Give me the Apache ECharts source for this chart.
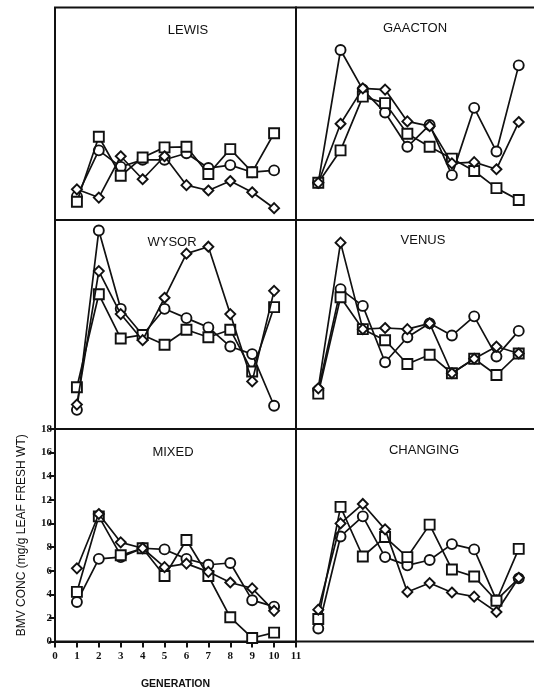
<!DOCTYPE html>
<html>
<head>
<meta charset="utf-8">
<script src="https://cdn.jsdelivr.net/npm/echarts@6/dist/echarts.min.js"></script>
<style>html,body{margin:0;padding:0;background:#fff;}#c{width:534px;height:689px;}</style>
</head>
<body>
<div id="c"></div>
<script>
// Data (BMV concentration, mg/g leaf fresh wt) per generation
const generations = [1, 2, 3, 4, 5, 6, 7, 8, 9, 10];
const yTicks = [0, 2, 4, 6, 8, 10, 12, 14, 16, 18];
const xTicks = [0, 1, 2, 3, 4, 5, 6, 7, 8, 9, 10, 11];
const panelNames = ['LEWIS', 'GAACTON', 'WYSOR', 'VENUS', 'MIXED', 'CHANGING'];

const lewisCircle   = [2.0, 5.9, 4.5, 5.1, 5.1, 5.65, 4.4, 4.65, 4.05, 4.2];
const lewisSquare   = [1.55, 7.05, 3.75, 5.3, 6.15, 6.2, 3.9, 6.0, 4.05, 7.35];
const lewisDiamond  = [2.6, 1.9, 5.4, 3.45, 5.4, 2.95, 2.5, 3.3, 2.35, 1.0];

const gaactonCircle  = [3.15, 14.4, 11.05, 9.1, 6.2, 8.05, 3.8, 9.5, 5.8, 13.1];
const gaactonSquare  = [3.15, 5.9, 10.45, 9.9, 7.3, 6.2, 5.2, 4.15, 2.7, 1.7];
const gaactonDiamond = [3.15, 8.15, 11.15, 11.05, 8.35, 7.95, 4.8, 4.9, 4.3, 8.3];

const wysorCircle  = [1.65, 17.1, 10.35, 8.1, 10.35, 9.55, 8.75, 7.1, 6.45, 2.0];
const wysorSquare  = [3.6, 11.6, 7.8, 8.1, 7.25, 8.55, 7.9, 8.55, 4.95, 10.5];
const wysorDiamond = [2.1, 13.6, 9.9, 7.65, 11.3, 15.1, 15.7, 9.9, 4.1, 11.9];

const venusCircle  = [3.35, 12.05, 10.6, 5.75, 7.9, 9.1, 8.05, 9.7, 6.25, 8.45];
const venusSquare  = [3.05, 11.35, 8.6, 7.65, 5.6, 6.4, 4.8, 6.05, 4.65, 6.5];
const venusDiamond = [3.5, 16.05, 8.6, 8.7, 8.6, 9.1, 4.8, 6.05, 7.1, 6.5];

const mixedCircle  = [3.35, 7.0, 7.15, 7.9, 7.8, 7.0, 6.5, 6.65, 3.5, 2.95];
const mixedSquare  = [4.2, 10.6, 7.3, 7.9, 5.55, 8.6, 5.55, 2.05, 0.3, 0.75];
const mixedDiamond = [6.2, 10.8, 8.4, 7.9, 6.3, 6.6, 5.9, 5.0, 4.5, 2.6];

const changingCircle  = [1.1, 8.9, 10.6, 7.15, 6.45, 6.9, 8.25, 7.8, 3.5, 5.35];
const changingSquare  = [1.9, 11.4, 7.2, 8.85, 7.15, 9.9, 6.1, 5.5, 3.45, 7.85];
const changingDiamond = [2.7, 10.0, 11.65, 9.5, 4.2, 4.95, 4.15, 3.8, 2.5, 5.4];

const panelData = [
  [lewisCircle, lewisSquare, lewisDiamond],
  [gaactonCircle, gaactonSquare, gaactonDiamond],
  [wysorCircle, wysorSquare, wysorDiamond],
  [venusCircle, venusSquare, venusDiamond],
  [mixedCircle, mixedSquare, mixedDiamond],
  [changingCircle, changingSquare, changingDiamond]
];

// Layout
const colLeft = [55, 296];
const colWidth = [241, 245];
const rowTop = [7.5, 220, 429];
const rowHeight = [212.5, 209, 212.5];
const titlePos = [[183, 25], [410, 23.5], [167, 237], [418, 235], [168, 447], [419, 445]];

const ink = '#111';
const grids = [], xAxes = [], yAxes = [], series = [], titles = [];
const symbols = ['circle', 'rect', 'diamond'];
const symSizes = [10, 10, 10];

for (let p = 0; p < 6; p++) {
  const r = Math.floor(p / 2), c = p % 2;
  const isAxisPanel = (p === 4);
  grids.push({
    left: colLeft[c], top: rowTop[r], width: colWidth[c], height: rowHeight[r],
    containLabel: false, outerBoundsMode: 'none',
    show: true, borderColor: ink, borderWidth: 2, backgroundColor: 'transparent'
  });
  xAxes.push({
    type: 'value', gridIndex: p, min: 0, max: 11, interval: 1,
    show: true,
    axisLine: { show: isAxisPanel, lineStyle: { color: ink, width: 2 } },
    axisTick: { show: isAxisPanel, length: 6, lineStyle: { color: ink, width: 2 } },
    axisLabel: {
      show: isAxisPanel, margin: 9, color: ink,
      fontFamily: 'Liberation Serif', fontWeight: 'bold', fontSize: 11,
      formatter: v => xTicks.includes(v) ? String(v) : ''
    },
    splitLine: { show: false },
    name: isAxisPanel ? 'GENERATION' : '',
    nameLocation: 'middle', nameGap: 37,
    nameTextStyle: { color: ink, fontFamily: 'Liberation Sans', fontWeight: 'bold', fontSize: 10.5 }
  });
  yAxes.push({
    type: 'value', gridIndex: p, min: 0, max: 18, interval: 2,
    show: true,
    axisLine: { show: isAxisPanel, lineStyle: { color: ink, width: 2 } },
    axisTick: { show: isAxisPanel, length: 6, lineStyle: { color: ink, width: 2 } },
    axisLabel: {
      show: isAxisPanel, margin: 3, color: ink,
      fontFamily: 'Liberation Serif', fontWeight: 'bold', fontSize: 11,
      formatter: v => yTicks.includes(v) ? String(v) : ''
    },
    splitLine: { show: false },
    name: isAxisPanel ? 'BMV CONC (mg/g LEAF FRESH WT)' : '',
    nameLocation: 'middle', nameGap: 27, nameRotate: 90,
    nameTextStyle: { color: ink, fontFamily: 'Liberation Sans', fontSize: 12 }
  });
  titles.push({
    text: panelNames[p], left: titlePos[p][0], top: titlePos[p][1],
    textAlign: 'center', textVerticalAlign: 'middle',
    textStyle: { color: ink, fontFamily: 'Liberation Sans', fontWeight: 'normal', fontSize: 13 }
  });
  for (let s = 0; s < 3; s++) {
    series.push({
      type: 'line', xAxisIndex: p, yAxisIndex: p,
      data: generations.map((g, i) => [g, panelData[p][s][i]]),
      symbol: symbols[s], symbolSize: symSizes[s],
      showAllSymbol: true,
      lineStyle: { color: ink, width: 1.7 },
      itemStyle: { color: '#fff', borderColor: ink, borderWidth: 1.9 },
      emphasis: { disabled: true },
      animation: false, z: 2 + s
    });
  }
}

const chart = echarts.init(document.getElementById('c'), null, { renderer: 'canvas' });
chart.setOption({
  backgroundColor: '#fff',
  animation: false,
  title: titles,
  grid: grids,
  xAxis: xAxes,
  yAxis: yAxes,
  series: series
});
</script>
</body>
</html>
